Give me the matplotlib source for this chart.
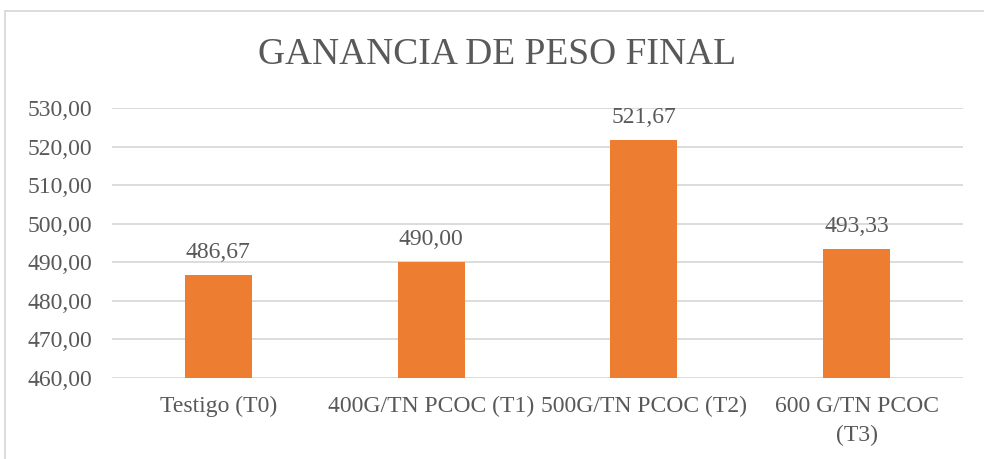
import numpy as np
from matplotlib import pyplot as plt
from matplotlib.lines import Line2D
from matplotlib.ticker import FuncFormatter

categories = ['Testigo (T0)', '400G/TN PCOC (T1)', '500G/TN PCOC (T2)', '600 G/TN PCOC\n(T3)']
values = [486.67, 490.00, 521.67, 493.33]
title = 'GANANCIA DE PESO FINAL'

text_color = '#595959'
bar_color = '#ED7D31'
grid_color = '#D9D9D9'

plt.rcParams['font.family'] = ['Liberation Serif', 'DejaVu Serif']


def comma_fmt(v, pos=None):
    return f'{v:.2f}'.replace('.', ',')


fig = plt.figure(figsize=(9.84, 4.59), dpi=100)
ax = fig.add_axes([0.1138, 0.1765, 0.8649, 0.5882])

x = np.arange(len(categories))
bars = ax.bar(x, values, width=0.315, color=bar_color, zorder=3)

ax.set_ylim(460, 530)
ax.set_xlim(-0.5, len(categories) - 0.5)
ax.set_yticks(np.arange(460, 531, 10))
ax.yaxis.set_major_formatter(FuncFormatter(comma_fmt))
ax.set_xticks(x)
ax.set_xticklabels(categories, linespacing=1.5)

ax.grid(axis='y', color=grid_color, linewidth=1.3, zorder=0)
for s in ax.spines.values():
    s.set_visible(False)
ax.tick_params(axis='both', length=0, colors=text_color, labelsize=17)
ax.tick_params(axis='x', pad=13)
ax.tick_params(axis='y', pad=14)

for rect, v in zip(bars, values):
    ax.annotate(comma_fmt(v), (rect.get_x() + rect.get_width() / 2, v),
                xytext=(0, 9), textcoords='offset points',
                ha='center', va='bottom', fontsize=17, color=text_color)

fig.text(0.505, 0.88, title, ha='center', va='center', fontsize=27, color=text_color)

# chart frame (only top and left visible in the crop)
fig.add_artist(Line2D([5 / 984, 5 / 984], [0, 1 - 11 / 459], color=grid_color, linewidth=1.3))
fig.add_artist(Line2D([5 / 984, 1], [1 - 11 / 459, 1 - 11 / 459], color=grid_color, linewidth=1.3))

fig.savefig('out.png', dpi=100)
